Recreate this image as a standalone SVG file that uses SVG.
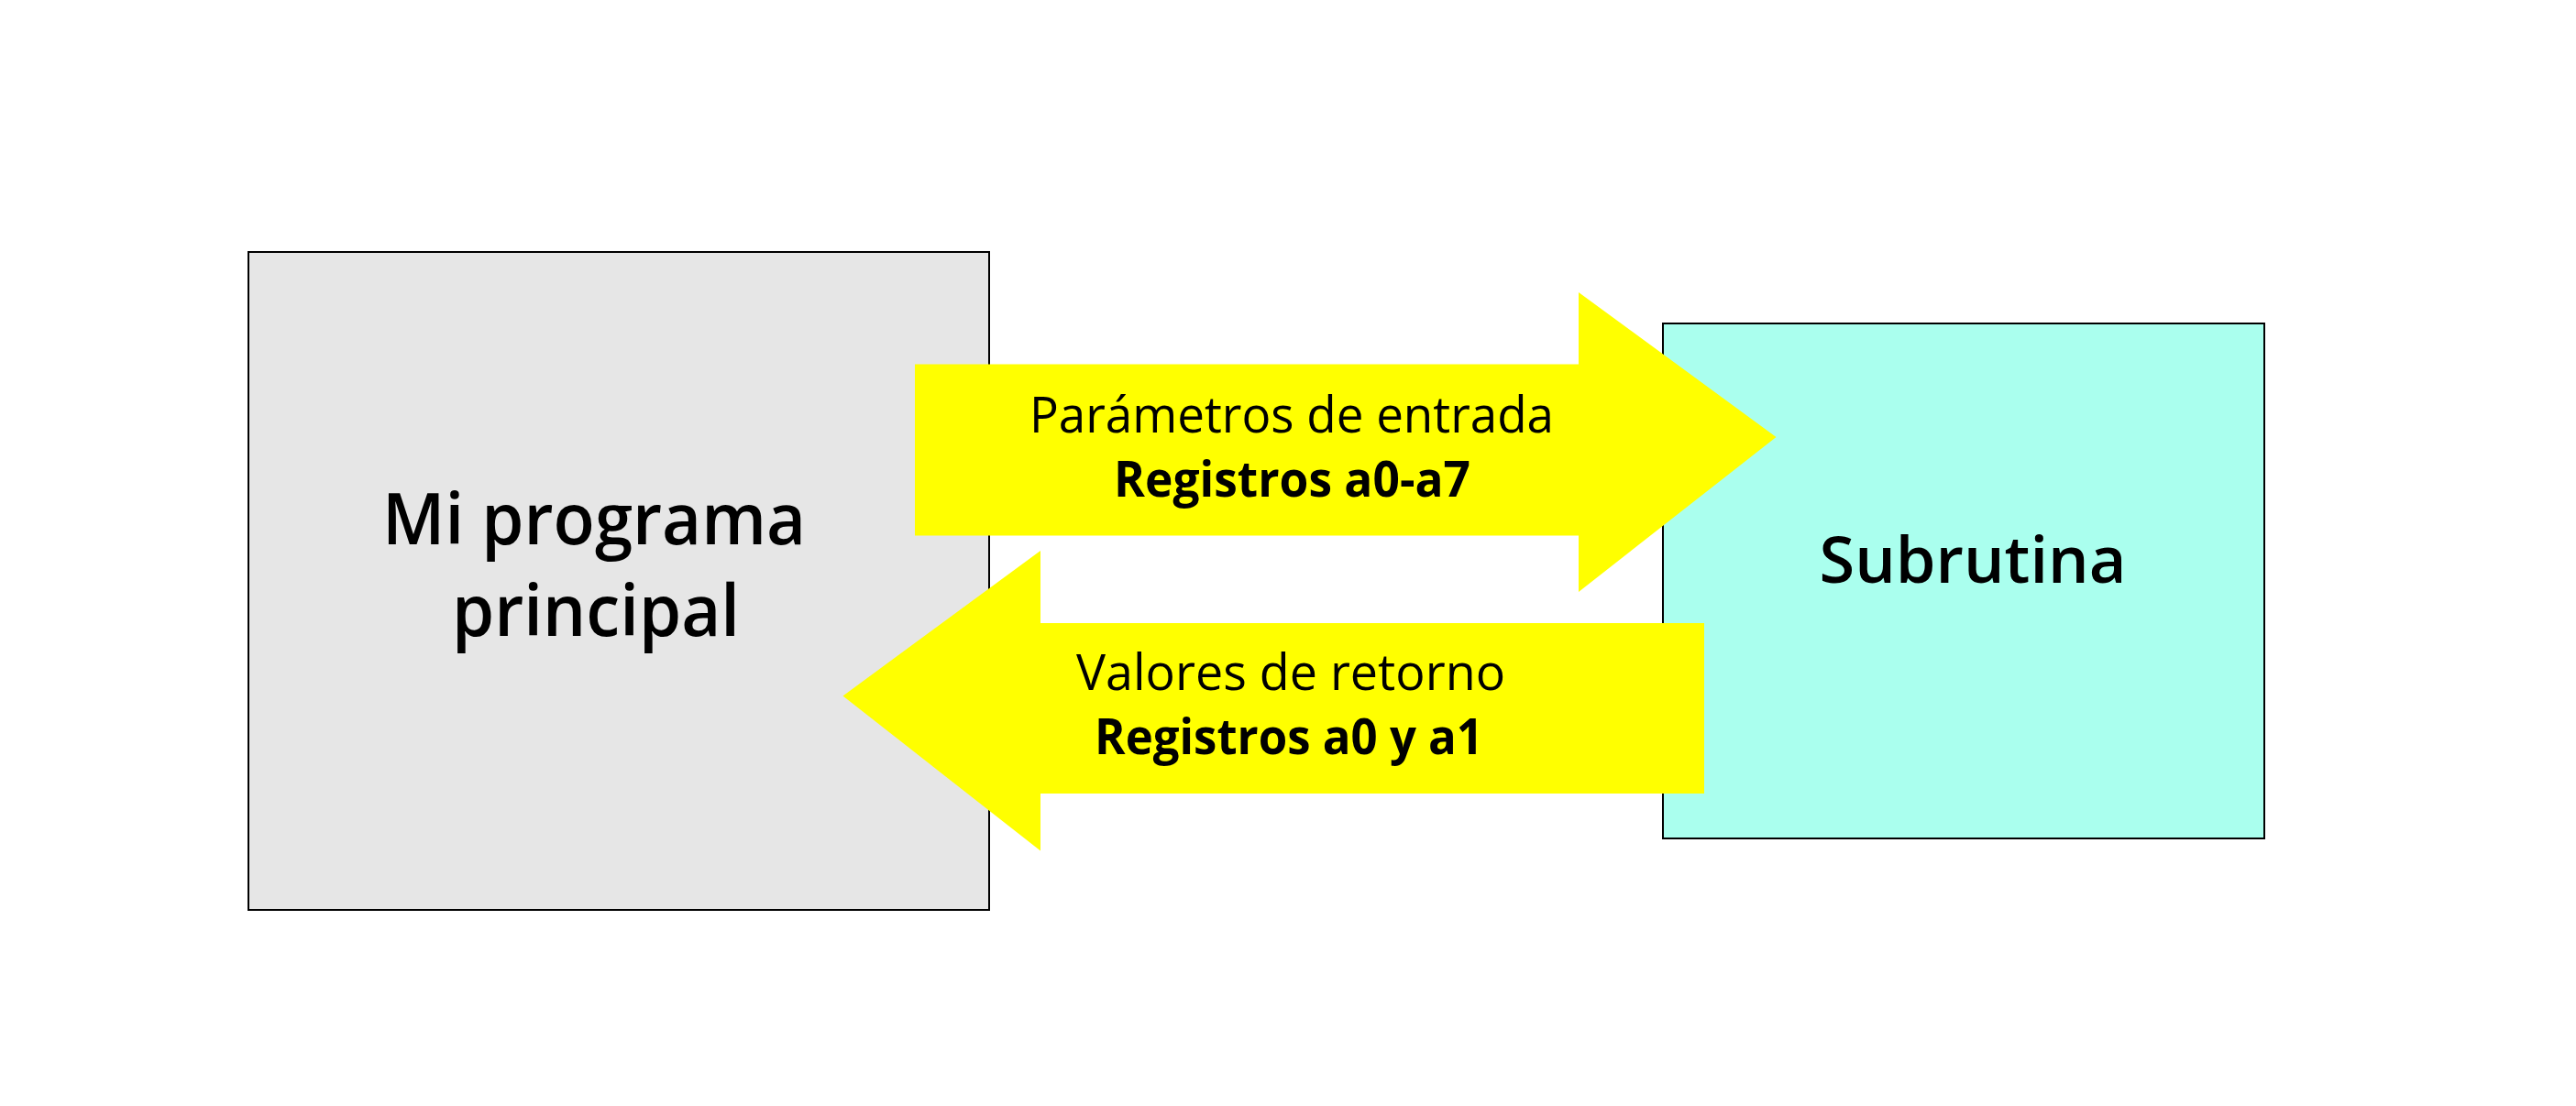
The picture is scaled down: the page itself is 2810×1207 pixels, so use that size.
<svg xmlns="http://www.w3.org/2000/svg" width="2810" height="1207" viewBox="0 0 2810 1207">
  <style>
    .box { stroke: #000000; stroke-width: 2; }
    .main { fill: #e6e6e6; }
    .sub { fill: #aaffee; }
    .arrow { fill: #ffff00; stroke: none; }
    text { font-family: "Open Sans", "DejaVu Sans", sans-serif; fill: #000000; text-anchor: middle; }
    .big { font-size: 77px; font-weight: 600; }
    .lbl { font-size: 54px; font-weight: 400; }
    .lblb { font-size: 54px; font-weight: 700; }
  </style>
  <rect width="2810" height="1207" fill="#ffffff"/>
  <g id="node-main">
    <rect class="box main" x="271" y="275" width="808" height="718"/>
    <text class="big" x="648" y="594" textLength="462" lengthAdjust="spacingAndGlyphs">Mi programa</text>
    <text class="big" x="650" y="694" textLength="314" lengthAdjust="spacingAndGlyphs">principal</text>
  </g>
  <g id="node-subrutina">
    <rect class="box sub" x="1814" y="353" width="656" height="562"/>
    <text class="big" x="2152" y="636" style="font-size:71px" textLength="335" lengthAdjust="spacingAndGlyphs">Subrutina</text>
  </g>
  <g id="connectors">
    <g id="arrow-params">
      <polygon class="arrow" points="998,397.5 1722,397.5 1722,319 1937.5,477 1722,646 1722,584.5 998,584.5"/>
      <text class="lbl" x="1409" y="472" textLength="572" lengthAdjust="spacingAndGlyphs">Parámetros de entrada</text>
      <text class="lblb" x="1409.5" y="542" textLength="389" lengthAdjust="spacingAndGlyphs">Registros a0-a7</text>
    </g>
    <g id="arrow-return">
      <polygon class="arrow" points="1859,680 1135,680 1135,601 919.5,759.5 1135,928.5 1135,866 1859,866"/>
      <text class="lbl" x="1408" y="753" textLength="468" lengthAdjust="spacingAndGlyphs">Valores de retorno</text>
      <text class="lblb" x="1406" y="823" textLength="424" lengthAdjust="spacingAndGlyphs">Registros a0 y a1</text>
    </g>
  </g>
</svg>
